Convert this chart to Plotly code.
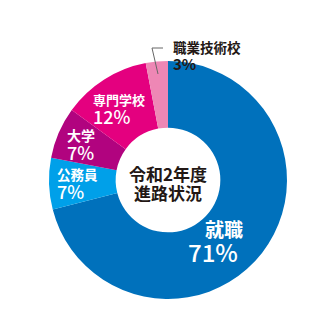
import plotly.graph_objects as go

W, H = 336, 335

labels = ["就職", "公務員", "大学", "専門学校", "職業技術校"]
values = [71, 7, 7, 12, 3]
pct_text = ["71%", "7%", "7%", "12%", "3%"]
colors = ["#0071BC", "#00A0E9", "#B1037F", "#E4007F", "#EE87B5"]
center_lines = ["令和2年度", "進路状況"]

FONT = "Noto Sans CJK JP"

# geometry (pixels)
cx, cy, R = 168, 180, 119

fig = go.Figure()
fig.add_trace(go.Pie(
    labels=labels, values=values, sort=False, direction="clockwise", rotation=0,
    hole=0.44, marker=dict(colors=colors, line=dict(width=0)),
    textinfo="none", hoverinfo="label+percent", showlegend=False,
    domain=dict(x=[(cx - R) / W, (cx + R) / W], y=[1 - (cy + R) / H, 1 - (cy - R) / H]),
))

def px(x):
    return x / W

def py(y):
    return 1 - y / H

# label placement (pixel positions of left edge / vertical middle)
name_pos = [(204, 228), (56, 174), (66, 135), (92, 99), (172, 47)]
pct_pos = [(187, 251), (56, 191), (66, 152), (92, 116), (172, 64)]
name_size = [19, 13.5, 14, 13, 13.5]
pct_size = [24, 18, 18, 18, 15]
text_color = ["white", "white", "white", "white", "#231815"]

ann = []
for i in range(len(labels)):
    ann.append(dict(x=px(name_pos[i][0]), y=py(name_pos[i][1]), xref="paper", yref="paper",
                    text=labels[i], showarrow=False, xanchor="left", yanchor="middle", borderpad=0,
                    font=dict(family=FONT, size=name_size[i], color=text_color[i], weight="bold")))
    ann.append(dict(x=px(pct_pos[i][0]), y=py(pct_pos[i][1]), xref="paper", yref="paper",
                    text=pct_text[i], showarrow=False, xanchor="left", yanchor="middle", borderpad=0,
                    font=dict(family=FONT, size=pct_size[i], color=text_color[i],
                              weight="bold" if i == 4 else 500)))

for j, line in enumerate(center_lines):
    ann.append(dict(x=px(cx), y=py(173 + 20 * j), xref="paper", yref="paper",
                    text=line, showarrow=False, xanchor="center", yanchor="middle", borderpad=0,
                    font=dict(family=FONT, size=17, color="#231815", weight="bold")))

fig.update_layout(
    width=W, height=H, margin=dict(l=0, r=0, t=0, b=0),
    paper_bgcolor="white", plot_bgcolor="white",
    annotations=ann,
    shapes=[dict(type="path", xref="paper", yref="paper",
                 path=f"M {px(163)} {py(48)} L {px(152)} {py(48)} L {px(158)} {py(74)}",
                 line=dict(color="#666666", width=1))],
)

fig.write_html("out.html")
